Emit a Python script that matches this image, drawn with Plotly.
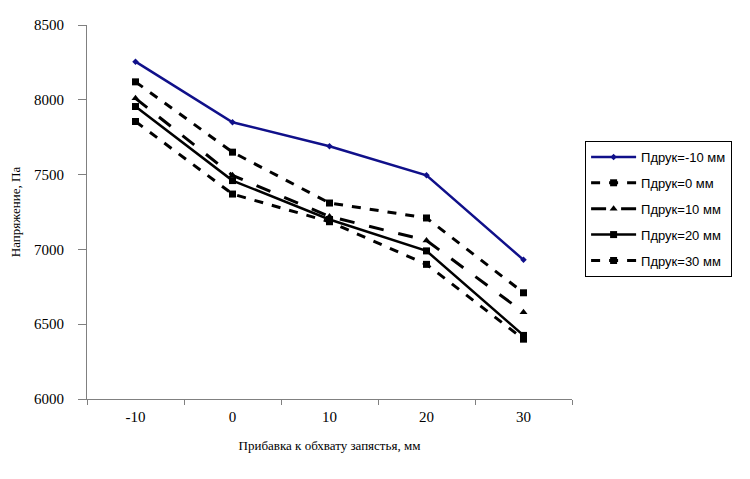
import plotly.graph_objects as go

categories = ["-10", "0", "10", "20", "30"]
names = ["Пдрук=-10 мм", "Пдрук=0 мм", "Пдрук=10 мм", "Пдрук=20 мм", "Пдрук=30 мм"]
s_m10 = [8255, 7850, 7690, 7495, 6930]
s_0 = [8120, 7650, 7310, 7210, 6710]
s_10 = [8010, 7495, 7220, 7060, 6580]
s_20 = [7955, 7460, 7200, 6990, 6425]
s_30 = [7855, 7370, 7185, 6900, 6400]

series = [s_m10, s_0, s_10, s_20, s_30]
colors = ["#10108a", "#000000", "#000000", "#000000", "#000000"]
dashes = ["solid", "dash", "longdash", "solid", "dash"]
widths = [2.5, 3, 3, 2.5, 3]
symbols = ["diamond", "square", "triangle-up", "square", "square"]
msizes = [5, 7, 7, 7, 7]

fig = go.Figure()
for i, (nm, vals) in enumerate(zip(names, series)):
    fig.add_trace(go.Scatter(
        x=categories, y=vals, name=nm, mode="lines+markers",
        legendgroup=f"g{i}",
        line=dict(color=colors[i], dash=dashes[i], width=widths[i]),
        marker=dict(symbol=symbols[i], size=msizes[i], color=colors[i]),
    ))

fig.update_layout(
    width=750, height=479,
    margin=dict(l=79, r=186, t=17, b=88),
    paper_bgcolor="white", plot_bgcolor="white",
    showlegend=True,
    legend=dict(
        x=1.027, y=0.69, xanchor="left", yanchor="top",
        bordercolor="#000000", borderwidth=1,
        font=dict(family="Liberation Sans, Arial", size=13, color="black"),
        tracegroupgap=6, traceorder="grouped",
        itemwidth=45,
    ),
    xaxis=dict(
        type="category", range=[-0.5, 4.5], automargin=False,
        showline=True, linecolor="#808080", linewidth=1,
        ticks="outside", tickson="boundaries", ticklen=5, tickcolor="#808080",
        showgrid=False, zeroline=False,
        ticklabelstandoff=4,
        tickfont=dict(family="Liberation Serif, Times New Roman", size=15, color="black"),
        title=dict(text="Прибавка к обхвату запястья, мм",
                   font=dict(family="Liberation Serif, Times New Roman", size=13, color="black"),
                   standoff=16),
    ),
    yaxis=dict(
        range=[6000, 8500], tickvals=[6000, 6500, 7000, 7500, 8000, 8500],
        automargin=False,
        showline=True, linecolor="#808080", linewidth=1,
        ticks="outside", ticklen=8, tickcolor="#808080",
        showgrid=False, zeroline=False,
        ticklabelstandoff=11,
        tickfont=dict(family="Liberation Serif, Times New Roman", size=15, color="black"),
        title=dict(text="Напряжение, Па",
                   font=dict(family="Liberation Serif, Times New Roman", size=13, color="black"),
                   standoff=16),
    ),
)

fig.write_html("out.html")
